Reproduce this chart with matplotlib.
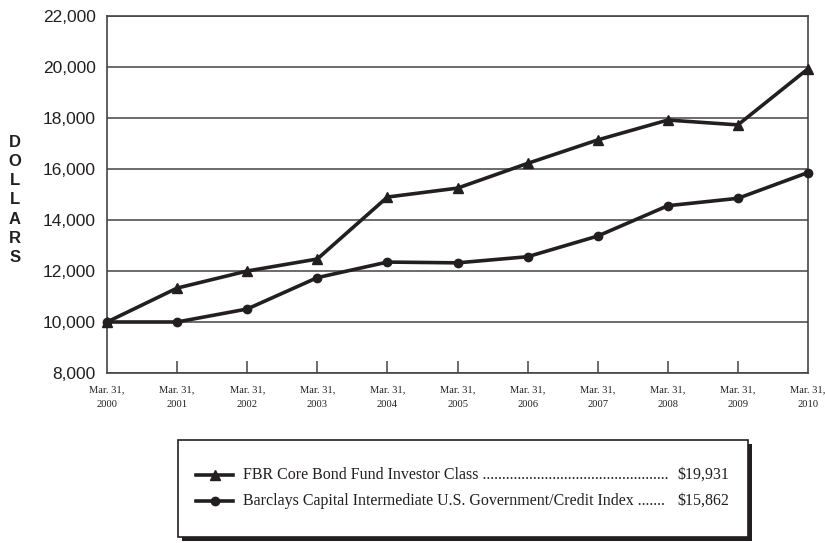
import matplotlib
matplotlib.use("Agg")
import matplotlib.pyplot as plt
from matplotlib.patches import Rectangle
from matplotlib.lines import Line2D

years = [2000, 2001, 2002, 2003, 2004, 2005, 2006, 2007, 2008, 2009, 2010]
x_labels = [f"Mar. 31,\n{y}" for y in years]
fbr = [10000, 11330, 12000, 12470, 14900, 15250, 16220, 17140, 17920, 17730, 19931]
barclays = [10000, 10000, 10510, 11740, 12350, 12320, 12560, 13370, 14560, 14850, 15862]
legend_names = ["FBR Core Bond Fund Investor Class",
                "Barclays Capital Intermediate U.S. Government/Credit Index"]
legend_dots = [" ................................................",
               " ......."]
legend_values = ["$19,931", "$15,862"]
y_ticks = [8000, 10000, 12000, 14000, 16000, 18000, 20000, 22000]

ink = "#231f20"
W, H = 825, 543
fig = plt.figure(figsize=(W / 100, H / 100), dpi=100)
ax = fig.add_axes([107 / W, 1 - 373 / H, 701 / W, 357 / H])

xs = list(range(len(years)))
ax.plot(xs, fbr, color=ink, lw=2.6, marker="^", ms=7, clip_on=False, zorder=3)
ax.plot(xs, barclays, color=ink, lw=2.6, marker="o", ms=6, clip_on=False, zorder=3)

ax.set_xlim(0, len(years) - 1)
ax.set_ylim(8000, 22000)
ax.set_yticks(y_ticks)
ax.set_yticklabels([f"{v:,}" for v in y_ticks], fontfamily="Liberation Sans", fontsize=12.5, color=ink)
ax.tick_params(axis="y", length=0, pad=8)
ax.yaxis.grid(True, color="#444444", lw=1.1)
ax.set_axisbelow(True)

ax.set_xticks(xs)
ax.set_xticklabels(x_labels, fontfamily="Liberation Serif", fontsize=7.6, color=ink, linespacing=1.75)
ax.tick_params(axis="x", direction="in", length=9, width=1.1, color="#444444", pad=9)
ax.xaxis.get_major_ticks()[0].tick1line.set_visible(False)
ax.xaxis.get_major_ticks()[-1].tick1line.set_visible(False)
for s in ax.spines.values():
    s.set_color("#444444")
    s.set_linewidth(1.2)

fig.text(15 / W, 1 - 200 / H, "\n".join("DOLLARS"), ha="center", va="center",
         fontfamily="Liberation Sans", fontweight="bold", fontsize=12, color=ink, linespacing=1.36)

# Legend box with shadow
shadow = Rectangle((182 / W, 1 - 541 / H), 570 / W, 97 / H, transform=fig.transFigure,
                   facecolor=ink, edgecolor="none", zorder=1)
box = Rectangle((178 / W, 1 - 537 / H), 570 / W, 97 / H, transform=fig.transFigure,
                facecolor="white", edgecolor=ink, lw=1.2, zorder=2)
fig.patches.extend([shadow, box])

markers = ["^", "o"]
for i, (name, dots, val) in enumerate(zip(legend_names, legend_dots, legend_values)):
    yy = 1 - (475 + 26 * i) / H
    fig.add_artist(Line2D([196 / W, 233 / W], [yy, yy], transform=fig.transFigure,
                          color=ink, lw=2.6, zorder=3))
    fig.add_artist(Line2D([214.5 / W], [yy], transform=fig.transFigure, marker=markers[i],
                          ms=7 if i == 0 else 6, color=ink, lw=0, zorder=4))
    fig.text(243 / W, yy, name + dots, ha="left", va="center", fontfamily="Liberation Serif",
             fontsize=11.5, color=ink, zorder=5)
    fig.text(729 / W, yy, val, ha="right", va="center", fontfamily="Liberation Serif",
             fontsize=11.5, color=ink, zorder=5)

fig.savefig("out.png", dpi=100)
